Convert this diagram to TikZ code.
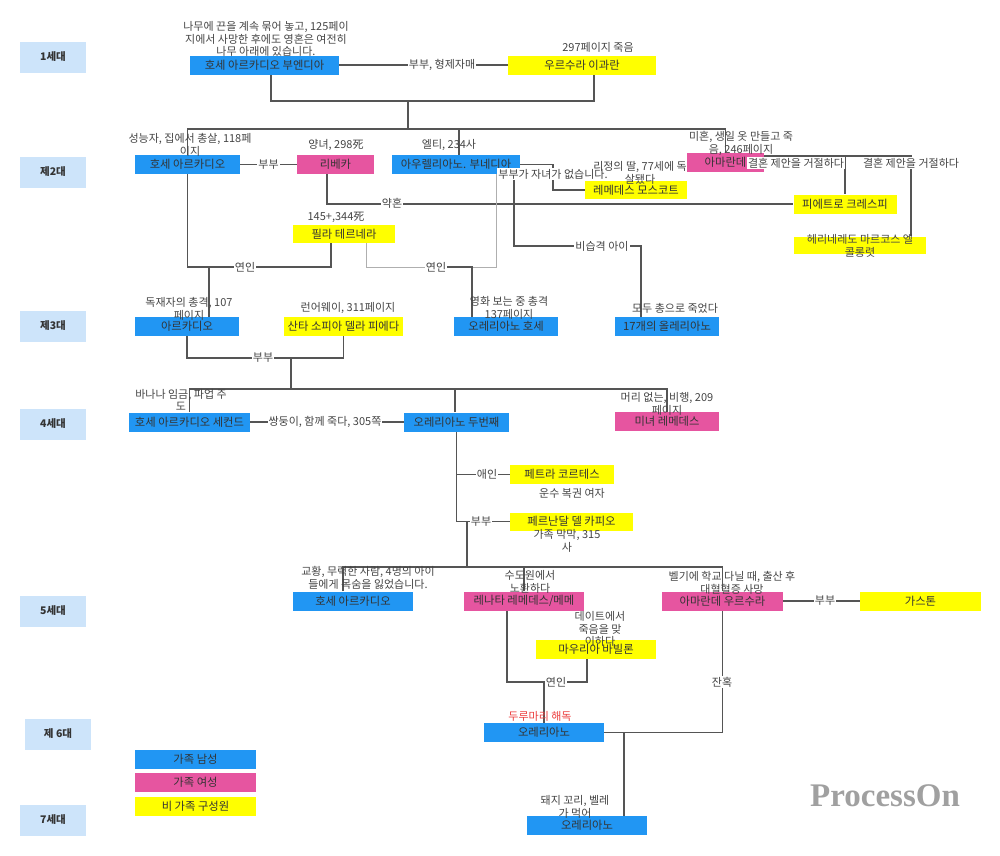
\documentclass[tikz,border=0pt]{standalone}
\usepackage{fontspec}
\setmainfont{Noto Sans CJK KR}
\newfontfamily\wmfont{Liberation Serif}
\usetikzlibrary{calc}
\pgfdeclarelayer{background}
\pgfsetlayers{background,main}
\definecolor{mblue}{RGB}{33,150,243}
\definecolor{mpink}{RGB}{230,85,160}
\definecolor{myellow}{RGB}{255,255,0}
\definecolor{genblue}{RGB}{205,228,250}
\definecolor{txt}{RGB}{51,51,51}
\definecolor{notecol}{RGB}{68,68,68}
\definecolor{lcol}{RGB}{85,85,85}
\definecolor{thincol}{RGB}{175,175,175}
\definecolor{wmcol}{RGB}{160,160,160}
\definecolor{redtxt}{RGB}{235,60,60}
\tikzset{
  box/.style={rectangle, draw=none, minimum height=19pt, inner sep=0pt, font=\fontsize{11.3}{12}\selectfont, text=txt},
  bbox/.style={box, fill=mblue},
  pbox/.style={box, fill=mpink},
  ybox/.style={box, fill=myellow},
  gen/.style={rectangle, fill=genblue, minimum width=66pt, minimum height=31pt, inner sep=0pt, font=\bfseries\fontsize{10.5}{12}\selectfont, text=txt},
  note/.style={font=\fontsize{11}{12.8}\selectfont, text=notecol, align=center, inner sep=0pt},
  elabel/.style={fill=white, inner sep=1pt, font=\fontsize{11}{12}\selectfont, text=notecol},
  conn/.style={draw=lcol, line width=1.1pt},
  thinconn/.style={draw=thincol, line width=0.8pt}
}
\begin{document}
\begin{tikzpicture}[x=1pt,y=-1pt]
\useasboundingbox (0,0) rectangle (1000,855);

% generation labels
\node[gen] (g1) at (53,57) {1세대};
\node[gen] (g2) at (53,172) {제2대};
\node[gen] (g3) at (53,326) {제3대};
\node[gen] (g4) at (53,424) {4세대};
\node[gen] (g5) at (53,611) {5세대};
\node[gen] (g6) at (58,734) {제 6대};
\node[gen] (g7) at (53,820) {7세대};

% people
\node[bbox, minimum width=149pt] (jab) at (264.5,65) {호세 아르카디오 부엔디아};
\node[ybox, minimum width=148pt] (urs) at (582,65) {우르수라 이과란};
\node[bbox, minimum width=105pt] (ja2) at (187.5,164.5) {호세 아르카디오};
\node[pbox, minimum width=77pt] (reb) at (335.5,164.5) {리베카};
\node[bbox, minimum width=128pt] (aur) at (456,164.5) {아우렐리아노. 부네디아};
\node[pbox, minimum width=77pt] (ama) at (725.5,162.5) {아마란데};
\node[ybox, minimum width=102pt, minimum height=18pt] (rem) at (636,190) {레메데스 모스코트};
\node[ybox, minimum width=103pt] (pie) at (845,204) {피에트로 크레스피};
\node[ybox, minimum width=132pt, minimum height=17pt] (her) at (860,245) {};
\node[ybox, minimum width=102pt, minimum height=18pt] (pil) at (344,234) {필라 테르네라};
\node[bbox, minimum width=104pt] (arc) at (187,326.5) {아르카디오};
\node[ybox, minimum width=119pt] (san) at (343.5,326.5) {산타 소피아 델라 피에다};
\node[bbox, minimum width=104pt] (ajo) at (506,326.5) {오레리아노 호세};
\node[bbox, minimum width=104pt] (a17) at (667,326.5) {17개의 올레리아노};
\node[bbox, minimum width=121pt] (jas) at (189.5,422) {호세 아르카디오 세컨드};
\node[bbox, minimum width=105pt] (ase) at (456.5,422) {오레리아노 두번째};
\node[pbox, minimum width=104pt] (rmb) at (667,421.5) {미녀 레메데스};
\node[ybox, minimum width=104pt] (pet) at (562,474.5) {페트라 코르테스};
\node[ybox, minimum width=123pt, minimum height=18pt] (fer) at (571.5,521.5) {페르난달 델 카피오};
\node[bbox, minimum width=120pt] (ja5) at (353,601) {호세 아르카디오};
\node[pbox, minimum width=120pt] (ren) at (524,601) {레나타 레메데스/메메};
\node[pbox, minimum width=121pt] (amu) at (722.5,601) {아마란데 우르수라};
\node[ybox, minimum width=121pt] (gas) at (920.5,601) {가스톤};
\node[ybox, minimum width=120pt] (mau) at (596,649.5) {마우리아 바빌론};
\node[bbox, minimum width=120pt] (a6) at (544,732.5) {오레리아노};
\node[bbox, minimum width=120pt] (a7) at (587,825.5) {오레리아노};

% legend
\node[bbox, minimum width=121pt] (lg1) at (195.5,759.5) {가족 남성};
\node[pbox, minimum width=121pt] (lg2) at (195.5,782.5) {가족 여성};
\node[ybox, minimum width=121pt] (lg3) at (195.5,806.5) {비 가족 구성원};

% coordinates
\coordinate (m1) at (408,101);
\coordinate (b2) at (408,129);
\coordinate (l1) at (209,267);
\coordinate (l2) at (436,267);
\coordinate (l2b) at (472,267);
\coordinate (k1) at (553,190);
\coordinate (k2) at (602,246);
\coordinate (k3) at (291,358);
\coordinate (b4) at (291,389);
\coordinate (k4) at (467,521.5);
\coordinate (b5) at (467,567);
\coordinate (k5) at (544,682);
\coordinate (k6) at (624,732.5);

\begin{pgfonlayer}{background}
% gen 1
\draw[conn] (jab.east) -- (urs.west);
\draw[conn] ([xshift=6.5pt]jab.south) |- (m1) -| ([xshift=12pt]urs.south);
\draw[conn] (m1) -- (b2);
\draw[conn] (ja2.north) |- (b2) -| (ama.north);
\draw[conn] ([xshift=3pt]aur.north) -- ([xshift=3pt]aur.north |- b2);
% gen 2
\draw[conn] (ja2.east) -- (reb.west);
\draw[conn] ([xshift=-8.5pt]reb.south) |- (pie.west);
\draw[conn] (ja2.south) -- (ja2.south |- l1) -| ([xshift=-13pt]pil.south);
\draw[conn] (l1) -- (l1 |- arc.north);
\draw[thinconn] ([xshift=22pt]pil.south) -- ([xshift=22pt]pil.south |- l2) -| ([xshift=40pt]aur.south);
\draw[conn] (l2) -- (l2b) -- (l2b |- ajo.north);
\draw[conn] (aur.east) -| (k1) -- (rem.west);
\draw[conn] ([xshift=58pt]aur.south) |- (k2) -| ([xshift=-26pt]a17.north);
\draw[conn] ([yshift=6.5pt]ama.east) -| (pie.north);
\draw[conn] ([yshift=6.5pt]ama.east) -| ([xshift=51pt]her.north);
% gen 3
\draw[conn] (arc.south) |- (k3) -| (san.south);
\draw[conn] (k3) -- (b4);
\draw[conn] (jas.north) |- (b4) -| (rmb.north);
\draw[conn] ([xshift=-1.5pt]ase.north) -- ([xshift=-1.5pt]ase.north |- b4);
% gen 4
\draw[conn] (jas.east) -- (ase.west);
\draw[conn] (ase.south) |- (fer.west);
\draw[conn] (ase.south |- pet.west) -- (pet.west);
\draw[conn] (k4) -- (b5);
\draw[conn] ([xshift=-10pt]ja5.north) |- (b5) -| (amu.north);
\draw[conn] (ren.north) -- (ren.north |- b5);
% gen 5
\draw[conn] (amu.east) -- (gas.west);
\draw[conn] ([xshift=-17pt]ren.south) |- (k5) -| ([xshift=-9pt]mau.south);
\draw[conn] (k5) -- (a6.north);
\draw[conn] (amu.south) |- (a6.east);
\draw[conn] (k6) -- (k6 |- a7.north);
\end{pgfonlayer}

% edge labels
\node[elabel] (e1) at (442,65) {부부, 형제자매};
\node[elabel] (e2) at (268.5,164.5) {부부};
\node[elabel] (e3) at (392,203) {약혼};
\node[elabel] (e4) at (245,267) {연인};
\node[elabel] (e5) at (436,267) {연인};
\node[elabel] (e6) at (553,174) {부부가 자녀가 없습니다.};
\node[elabel] (e7) at (602,246) {비습격 아이};
\node[elabel] (e8) at (796,163) {결혼 제안을 거절하다};
\node[elabel] (e9) at (911,163) {결혼 제안을 거절하다};
\node[elabel] (e10) at (263,358) {부부};
\node[elabel] (e11) at (325,422) {쌍둥이, 함께 죽다, 305쪽};
\node[elabel] (e12) at (487,474.5) {애인};
\node[elabel] (e13) at (481,521.5) {부부};
\node[elabel] (e14) at (825,601) {부부};
\node[elabel] (e15) at (556,682) {연인};
\node[elabel] (e16) at (722,682) {잔혹};

% annotations
\node[note] (n1) at (266,39) {나무에 끈을 계속 묶어 놓고, 125페이\\지에서 사망한 후에도 영혼은 여전히\\나무 아래에 있습니다.};
\node[note] (n2) at (598,47) {297페이지 죽음};
\node[note] (n3) at (190,144.5) {성능자, 집에서 총살, 118페\\이지};
\node[note] (n4) at (336,145) {양녀, 298死};
\node[note] (n5) at (449,145) {엘티, 234사};
\node[note] (n6) at (741,143.5) {미혼, 생일 옷 만들고 죽\\음, 246페이지};
\node[note] (n7) at (640,172.5) {리정의 딸, 77세에 독\\살됐다};
\node[note] (n8) at (860,245.5) {헤리네레도 마르코스 엘\\콜롱렷};
\node[note] (n9) at (336,217) {145+,344死};
\node[note] (n10) at (189,308.5) {독재자의 총격, 107\\페이지};
\node[note] (n11) at (348,308) {런어웨이, 311페이지};
\node[note] (n12) at (509,308) {영화 보는 중 총격\\137페이지};
\node[note] (n13) at (675,308) {모두 총으로 죽었다};
\node[note] (n14) at (181,400) {바나나 임금, 파업 주\\도};
\node[note] (n15) at (667,404) {머리 없는, 비행, 209\\페이지};
\node[note] (n16) at (572,493) {운수 복권 여자};
\node[note] (n17) at (567,541) {가족 막막, 315\\사};
\node[note] (n18) at (368,578) {교황, 무력한 사람, 4명의 아이\\들에게 목숨을 잃었습니다.};
\node[note] (n19) at (530,582) {수도원에서\\노환하다};
\node[note] (n20) at (732,582.5) {벨기에 학교 다닐 때, 출산 후\\대혈혈증 사망};
\node[note] (n21) at (600,629) {데이트에서\\죽음을 맞\\이하다};
\node[note, text=redtxt] (n22) at (540,716) {두루마리 해독};
\node[note] (n23) at (575,806.5) {돼지 꼬리, 벨레\\가 먹어};

% watermark
\node[inner sep=0pt, text=wmcol, font=\wmfont\bfseries\fontsize{33}{33}\selectfont] (wm) at (885,796) {ProcessOn};
\end{tikzpicture}
\end{document}
